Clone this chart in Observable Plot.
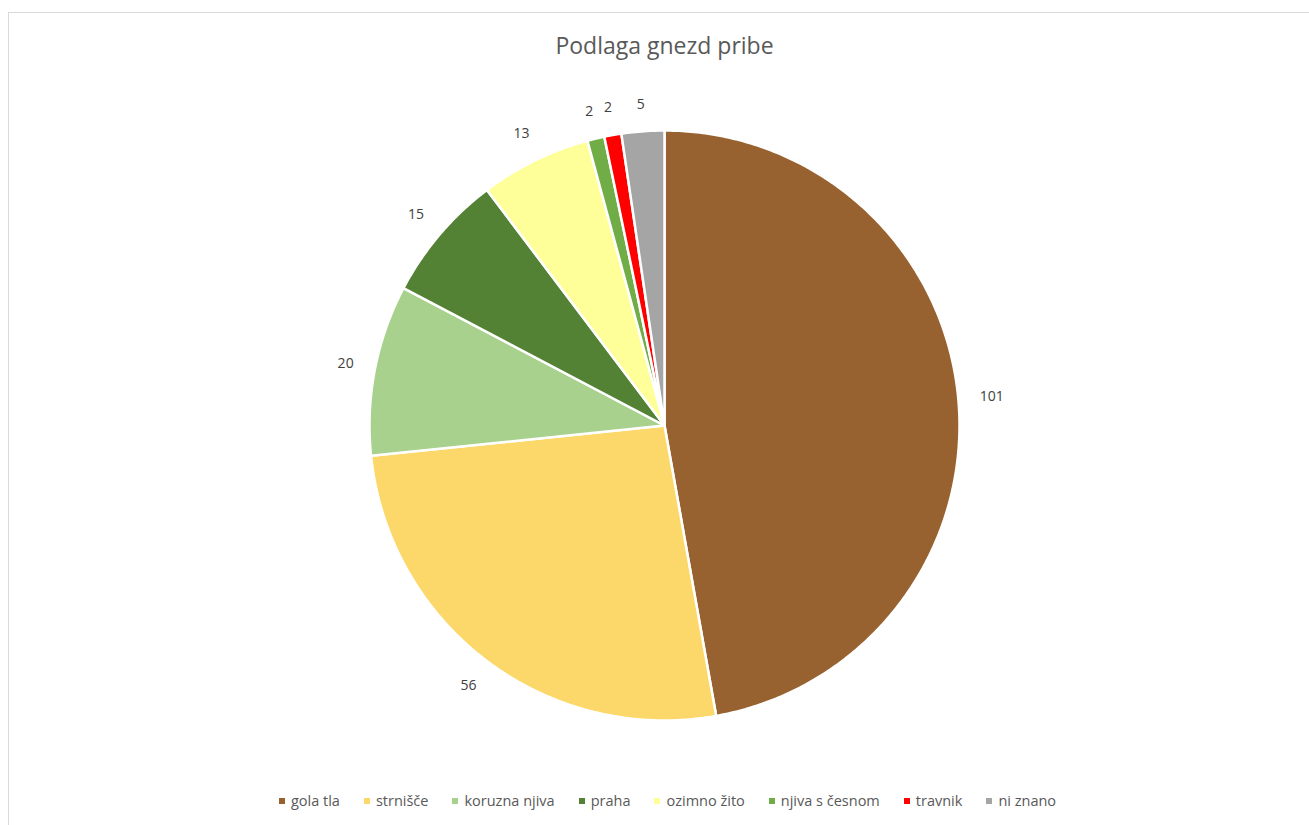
<!DOCTYPE html>
<html>
<head>
<meta charset="utf-8">
<script src="https://cdn.jsdelivr.net/npm/d3@7"></script>
<script src="https://cdn.jsdelivr.net/npm/@observablehq/plot@0.6"></script>
<style>
  html, body { margin: 0; padding: 0; background: #fff; }
  body { width: 1309px; height: 825px; overflow: hidden; position: relative; font-family: "Open Sans", "Noto Sans", sans-serif; }
  #frame { position: absolute; left: 8px; top: 12px; width: 1320px; height: 830px; border: 1px solid #d9d9d9; box-sizing: border-box; }
  #title { position: absolute; left: 0; top: 29px; width: 1309px; text-align: center; font-size: 23px; color: #595959; padding-left: 20px; box-sizing: border-box; }
  #chart { position: absolute; left: 0; top: 80px; }
  #legend { position: absolute; left: 0; top: 791px; width: 1309px; display: flex; justify-content: center; gap: 24px; font-size: 14.5px; color: #595959; padding-left: 26px; box-sizing: border-box; }
  #legend .item { display: flex; align-items: center; gap: 6px; }
  #legend .sw { width: 6px; height: 6px; display: inline-block; }
</style>
</head>
<body>
<div id="frame"></div>
<div id="title">Podlaga gnezd pribe</div>
<div id="chart"></div>
<div id="legend"></div>
<script>
const categories = ["gola tla", "strnišče", "koruzna njiva", "praha", "ozimno žito", "njiva s česnom", "travnik", "ni znano"];
const values = [101, 56, 20, 15, 13, 2, 2, 5];
const colors = ["#97622F", "#FCD86A", "#A9D18E", "#548235", "#FFFF99", "#70AD47", "#FF0000", "#A5A5A5"];

const table = categories.map((c, i) => ({category: c, value: values[i], color: colors[i]}));
const arcs = d3.pie().sort(null).value(d => d.value)(table);

// polygon points for each slice (angle measured clockwise from 12 o'clock)
const pts = [];
for (const a of arcs) {
  const key = a.data.category;
  pts.push({key, x: 0, y: 0});
  const n = Math.max(4, Math.ceil((a.endAngle - a.startAngle) / 0.01));
  for (let k = 0; k <= n; k++) {
    const t = a.startAngle + (a.endAngle - a.startAngle) * k / n;
    pts.push({key, x: Math.sin(t), y: Math.cos(t)});
  }
  pts.push({key, x: 0, y: 0});
}
// outside-end labels: distance grows with the text's extent along the bisector
const labels = arcs.map(a => {
  const m = (a.startAngle + a.endAngle) / 2;
  const text = String(a.data.value);
  const halfW = text.length * 4.3, halfH = 7;
  const d = 1 + (20 + Math.abs(Math.sin(m)) * halfW + Math.abs(Math.cos(m)) * halfH) / 295;
  return {text, x: d * Math.sin(m), y: d * Math.cos(m)};
});

const chart = Plot.plot({
  width: 1309,
  height: 700,
  margin: 0,
  x: {domain: [-1, 1], range: [369, 959], axis: null},
  y: {domain: [-1, 1], range: [640, 50], axis: null},
  color: {domain: categories, range: colors},
  marks: [
    Plot.line(pts, {x: "x", y: "y", z: "key", fill: "key", stroke: "#fff", strokeWidth: 2.5, strokeLinejoin: "round", curve: "linear"}),
    Plot.text(labels, {x: "x", y: "y", text: "text", fontSize: 14, fill: "#404040", fontFamily: "Open Sans"})
  ]
});
document.getElementById("chart").appendChild(chart);

const legend = document.getElementById("legend");
categories.forEach((c, i) => {
  const it = document.createElement("div");
  it.className = "item";
  const sw = document.createElement("span");
  sw.className = "sw";
  sw.style.background = colors[i];
  const tx = document.createElement("span");
  tx.textContent = c;
  it.appendChild(sw); it.appendChild(tx);
  legend.appendChild(it);
});
</script>
</body>
</html>
